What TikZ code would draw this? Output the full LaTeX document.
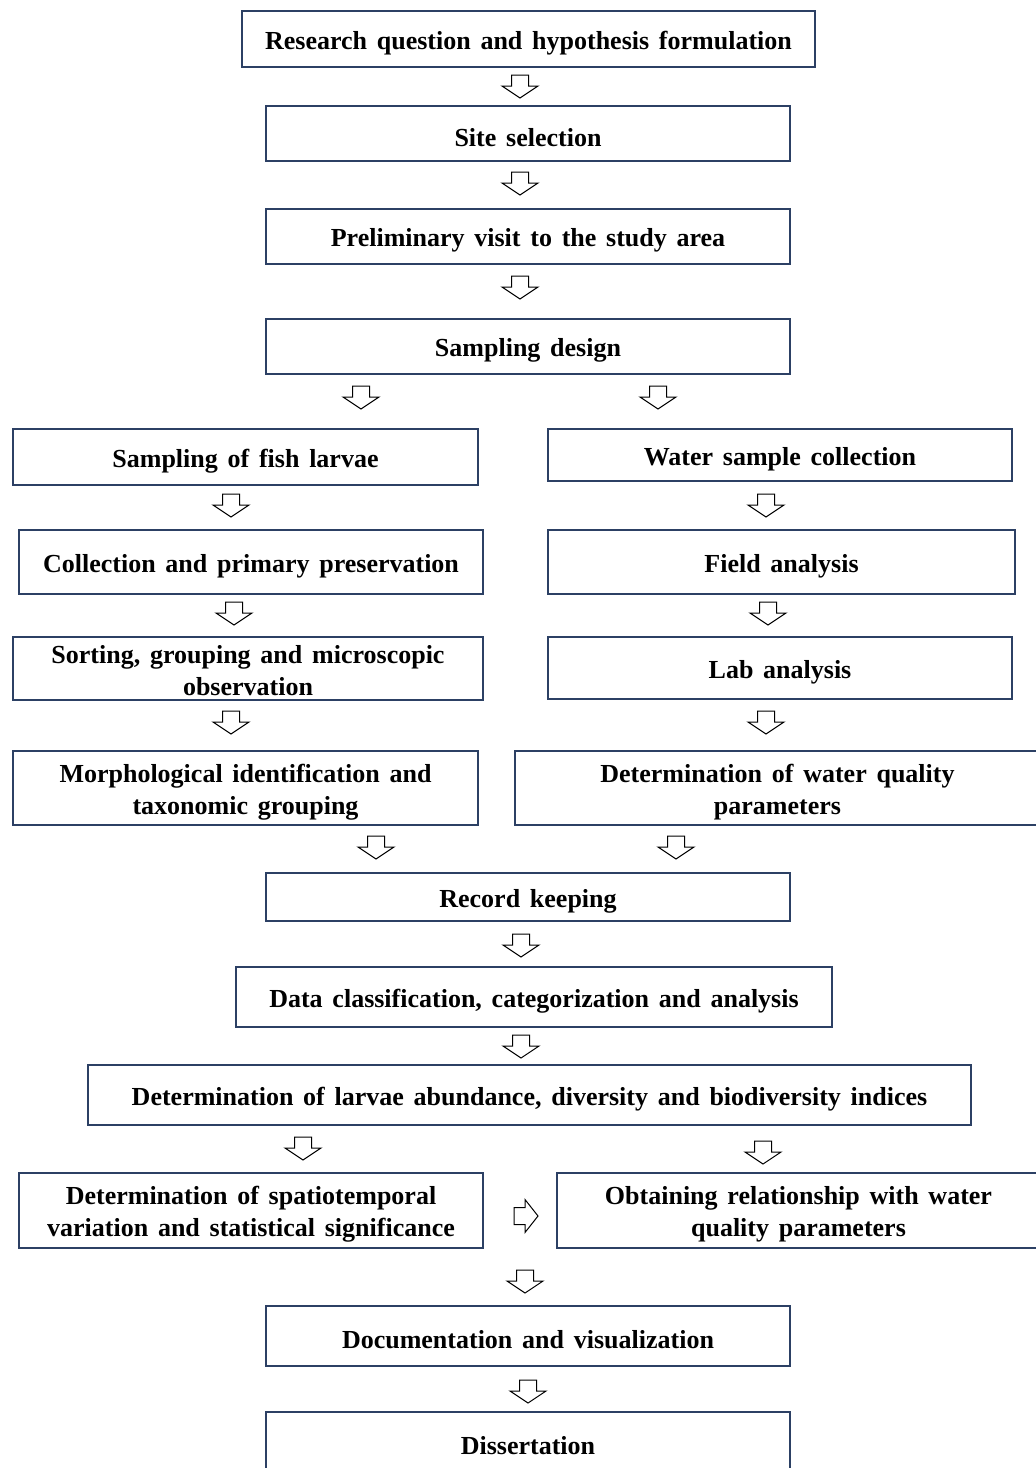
\documentclass[tikz,border=0pt]{standalone}
\usepackage{fontspec}
\setmainfont{Liberation Serif}[WordSpace=1.5]
\definecolor{boxblue}{RGB}{44,64,100}
\newcommand{\mytopstrut}{\rule{0pt}{26pt}}
\begin{document}
\begin{tikzpicture}[x=1pt,y=-1pt,
  box/.style={draw=boxblue, line width=1.6pt, fill=white, inner sep=2pt, align=center,
    font=\fontsize{26}{32}\selectfont\bfseries,
    execute at begin node={\mytopstrut}},
  arrowline/.style={draw=black, line width=1pt, fill=white, line join=miter},
  darrow/.pic={\draw[arrowline] (-8.5,0) -- (8.5,0) -- (8.5,11) -- (18,11) -- (0,23) -- (-18,11) -- (-8.5,11) -- cycle;},
  rarrow/.pic={\draw[arrowline] (0,-8.5) -- (0,8.5) -- (11,8.5) -- (11,16.5) -- (24,0) -- (11,-16.5) -- (11,-8.5) -- cycle;}
]
\useasboundingbox (0,0) rectangle (1036,1468);

% boxes
\node[box, minimum width=573, minimum height=56] (b1) at (528.5,39) {Research question and hypothesis formulation};
\node[box, minimum width=524, minimum height=55] (b2) at (528,133.5) {Site selection};
\node[box, minimum width=524, minimum height=55] (b3) at (528,236.5) {Preliminary visit to the study area};
\node[box, minimum width=524, minimum height=55] (b4) at (528,346.5) {Sampling design};
\node[box, minimum width=465, minimum height=56] (b5l) at (245.5,457) {Sampling of fish larvae};
\node[box, minimum width=464, minimum height=52] (b5r) at (780,455) {Water sample collection};
\node[box, minimum width=464, minimum height=64] (b6l) at (251,562) {Collection and primary preservation};
\node[box, minimum width=467, minimum height=64] (b6r) at (781.5,562) {Field analysis};
\node[box, minimum width=470, minimum height=63] (b7l) at (248,668.5) {\rule{0pt}{22pt}Sorting, grouping and microscopic\\observation};
\node[box, minimum width=464, minimum height=62] (b7r) at (780,668) {Lab analysis};
\node[box, minimum width=465, minimum height=74] (b8l) at (245.5,788) {\mytopstrut Morphological identification and\\taxonomic grouping};
\node[box, minimum width=525, minimum height=74] (b8r) at (777.5,788) {\mytopstrut Determination of water quality\\parameters};
\node[box, minimum width=524, minimum height=48] (b9) at (528,897) {Record keeping};
\node[box, minimum width=596, minimum height=60] (b10) at (534,997) {Data classification, categorization and analysis};
\node[box, minimum width=883, minimum height=60] (b11) at (529.5,1095) {Determination of larvae abundance, diversity and biodiversity indices};
\node[box, minimum width=464, minimum height=75] (b12l) at (251,1210.5) {\mytopstrut Determination of spatiotemporal\\variation and statistical significance};
\node[box, minimum width=483, minimum height=75] (b12r) at (798.5,1210.5) {\mytopstrut Obtaining relationship with water\\quality parameters};
\node[box, minimum width=524, minimum height=60] (b13) at (528,1336) {Documentation and visualization};
\node[box, minimum width=524, minimum height=60] (b14) at (528,1442) {Dissertation};

% arrows
\coordinate (a1) at (520,75);
\coordinate (a2) at (520,172);
\coordinate (a3) at (520,276);
\coordinate (a4l) at (361,386);
\coordinate (a4r) at (658,386);
\coordinate (a5l) at (231,494);
\coordinate (a5r) at (766,494);
\coordinate (a6l) at (234,602);
\coordinate (a6r) at (768,602);
\coordinate (a7l) at (231,711);
\coordinate (a7r) at (766,711);
\coordinate (a8l) at (376,836);
\coordinate (a8r) at (676,836);
\coordinate (a9) at (521,934);
\coordinate (a10) at (521,1035);
\coordinate (a11l) at (303,1137);
\coordinate (a11r) at (763,1141);
\coordinate (ar) at (514,1216);
\coordinate (a12) at (525,1270);
\coordinate (a13) at (528,1380);

\foreach \c in {a1,a2,a3,a4l,a4r,a5l,a5r,a6l,a6r,a7l,a7r,a8l,a8r,a9,a10,a11l,a11r,a12,a13}
  \pic at (\c) {darrow};
\pic at (ar) {rarrow};
\end{tikzpicture}
\end{document}
